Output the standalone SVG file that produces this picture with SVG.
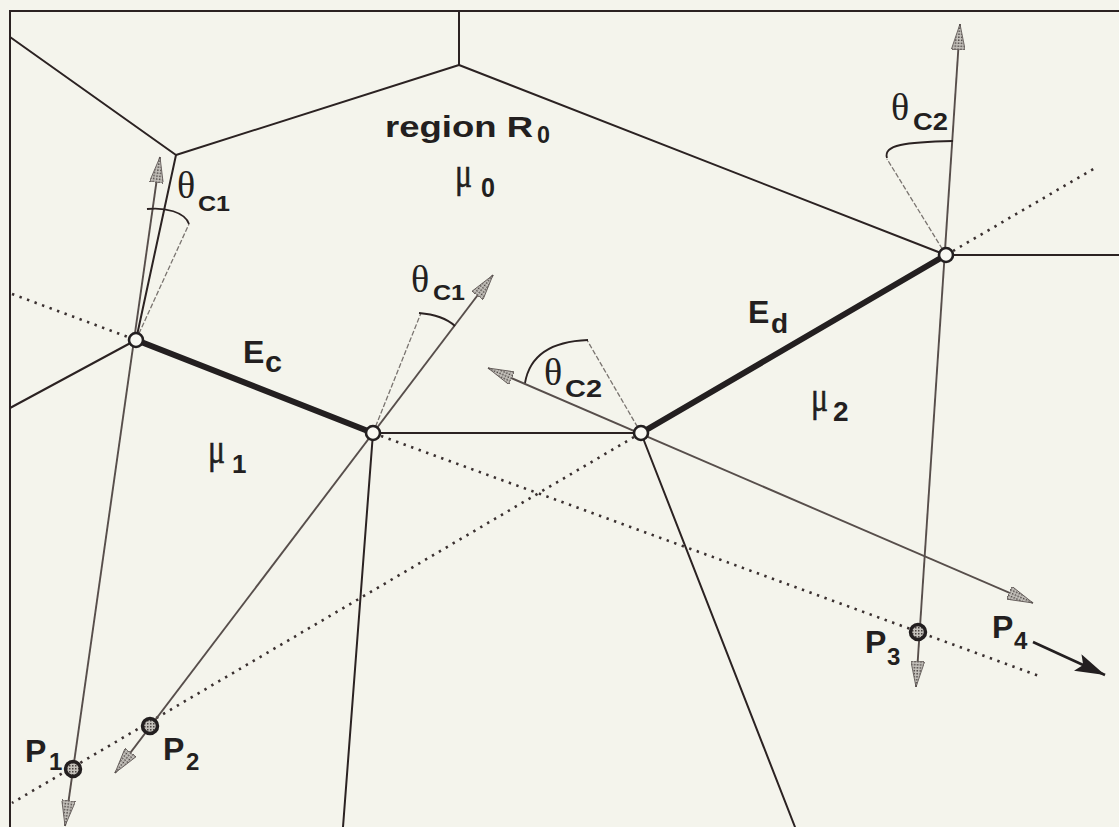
<svg xmlns="http://www.w3.org/2000/svg" width="1119" height="827" viewBox="0 0 1119 827">
<defs>
<pattern id="stip" width="3" height="3" patternUnits="userSpaceOnUse"><rect width="3" height="3" fill="#c4c1bb"/><rect width="1.5" height="1.5" fill="#4a4442"/></pattern>
<marker id="ga" viewBox="0 0 26 14" refX="26" refY="7" markerWidth="26" markerHeight="14" markerUnits="userSpaceOnUse" orient="auto-start-reverse"><path d="M0,0 L26,7 L0,14 Z" fill="url(#stip)" stroke="#5a5250" stroke-width="0.8"/></marker>
<marker id="ba" viewBox="0 0 30 18" refX="30" refY="9" markerWidth="30" markerHeight="18" markerUnits="userSpaceOnUse" orient="auto"><path d="M0,0 L30,9 L0,18 L6,9 Z" fill="#231f20"/></marker>
<style>
.edge{stroke:#2b2222;stroke-width:2;fill:none;stroke-linecap:round}
.thick{stroke:#231f20;stroke-width:6;fill:none;stroke-linecap:round}
.dot{stroke:#3a3030;stroke-width:2.6;fill:none;stroke-dasharray:2.4 5.6}
.ray{stroke:#574e4b;stroke-width:1.9;fill:none}
.guide{stroke:#7a7470;stroke-width:1.3;fill:none;stroke-dasharray:5 2}
.arc{stroke:#2b2222;stroke-width:1.8;fill:none}
.vtx{fill:#f8f8f2;stroke:#231f20;stroke-width:2.6}
.pt{fill:url(#stip);stroke:#231f20;stroke-width:3.5}
.s{font-family:"Liberation Sans",Arial,sans-serif;font-weight:bold;fill:#231f20}
.g{font-family:"Liberation Serif","Times New Roman",serif;fill:#231f20}
.mu{font-family:"Liberation Serif","Times New Roman",serif;fill:#231f20;stroke:#231f20;stroke-width:0.6}
</style>
</defs>
<rect width="1119" height="827" fill="#f4f4ec"/>

<g id="connectors">
  <path class="edge" d="M10,827 L10,11 L1119,11"/>
  <path class="edge" d="M459,11 L459,65"/>
  <path class="edge" d="M459,65 L176,155"/>
  <path class="edge" d="M176,155 L10,37"/>
  <path class="edge" d="M459,65 L946,255"/>
  <path class="edge" d="M946,255 L1119,255"/>
  <path class="edge" d="M176,155 L136,340"/>
  <path class="edge" d="M136,340 L10,408"/>
  <path class="edge" d="M373,433 L641,433"/>
  <path class="edge" d="M373,433 L343,827"/>
  <path class="edge" d="M641,433 L795,827"/>
  <path class="thick" d="M136,340 L373,433"/>
  <path class="thick" d="M641,433 L946,255"/>
  <path class="dot" d="M12,294 L128,337"/>
  <path class="dot" d="M381,436 L1042,677"/>
  <path class="dot" d="M953,251 L1095,168"/>
  <path class="dot" d="M634,437 L12,803"/>
  <path class="ray" d="M65,826 L160,157" marker-start="url(#ga)" marker-end="url(#ga)"/>
  <path class="ray" d="M115,773 L493,275" marker-start="url(#ga)" marker-end="url(#ga)"/>
  <path class="ray" d="M488,368 L1033,603" marker-start="url(#ga)" marker-end="url(#ga)"/>
  <path class="ray" d="M916,687 L960,24" marker-start="url(#ga)" marker-end="url(#ga)"/>
  <path class="guide" d="M136,340 L189,224"/>
  <path class="guide" d="M373,433 L421,313"/>
  <path class="guide" d="M641,433 L587,340"/>
  <path class="guide" d="M946,255 L887,159"/>
  <path class="arc" d="M147,209 C165,207 185,212 189,224"/>
  <path class="arc" d="M419,313 Q443,315 455,326"/>
  <path class="arc" d="M525,383 Q532,342 588,340"/>
  <path class="arc" d="M887,158 C883,145 905,142 953,141"/>
  <path stroke="#231f20" stroke-width="2.6" fill="none" d="M1033,642 L1105,675" marker-end="url(#ba)"/>
</g>

<g id="vertexA"><circle class="vtx" cx="136" cy="340" r="7"/></g>
<g id="vertexB"><circle class="vtx" cx="373" cy="433" r="7"/></g>
<g id="vertexC"><circle class="vtx" cx="641" cy="433" r="7"/></g>
<g id="vertexD"><circle class="vtx" cx="946" cy="255" r="7"/></g>

<g id="P1"><circle class="pt" cx="73" cy="769" r="7.5"/><text class="s" x="25" y="762" font-size="32">P</text><text class="s" x="49" y="770" font-size="24">1</text></g>
<g id="P2"><circle class="pt" cx="150" cy="726" r="7.5"/><text class="s" x="163" y="760" font-size="32">P</text><text class="s" x="186" y="770" font-size="24">2</text></g>
<g id="P3"><circle class="pt" cx="918" cy="632" r="7.5"/><text class="s" x="865" y="653" font-size="32">P</text><text class="s" x="887" y="665" font-size="24">3</text></g>
<g id="P4"><text class="s" x="992" y="638" font-size="32">P</text><text class="s" x="1014" y="649" font-size="24">4</text></g>

<g id="regionR0">
  <text class="s" x="385" y="137" font-size="30" textLength="148" lengthAdjust="spacingAndGlyphs">region R</text>
  <text class="s" x="537" y="143" font-size="24" font-weight="normal" textLength="13" lengthAdjust="spacingAndGlyphs">0</text>
  <text class="mu" x="455" y="187" font-size="44" textLength="17" lengthAdjust="spacingAndGlyphs">μ</text>
  <text class="s" x="481" y="197" font-size="28" font-weight="normal" textLength="14" lengthAdjust="spacingAndGlyphs">0</text>
</g>
<g id="mu1"><text class="mu" x="208" y="463" font-size="44" textLength="17" lengthAdjust="spacingAndGlyphs">μ</text><text class="s" x="232" y="473" font-size="26">1</text></g>
<g id="mu2"><text class="mu" x="811" y="411" font-size="44" textLength="17" lengthAdjust="spacingAndGlyphs">μ</text><text class="s" x="833" y="421" font-size="28">2</text></g>

<g id="Ec"><text class="s" x="243" y="363" font-size="32">E</text><text class="s" x="265" y="372" font-size="30" textLength="17" lengthAdjust="spacingAndGlyphs">c</text></g>
<g id="Ed"><text class="s" x="748" y="323" font-size="32">E</text><text class="s" x="771" y="333" font-size="28">d</text></g>

<g id="thetaA"><text class="g" x="177" y="198" font-size="38">θ</text><text class="s" x="198" y="211" font-size="22" textLength="32" lengthAdjust="spacingAndGlyphs">C1</text></g>
<g id="thetaB"><text class="g" x="411" y="292" font-size="38">θ</text><text class="s" x="433" y="300" font-size="22" textLength="32" lengthAdjust="spacingAndGlyphs">C1</text></g>
<g id="thetaC"><text class="g" x="544" y="385" font-size="38">θ</text><text class="s" x="565" y="397" font-size="24" textLength="37" lengthAdjust="spacingAndGlyphs">C2</text></g>
<g id="thetaD"><text class="g" x="891" y="120" font-size="38">θ</text><text class="s" x="913" y="130" font-size="23" textLength="35" lengthAdjust="spacingAndGlyphs">C2</text></g>
</svg>
